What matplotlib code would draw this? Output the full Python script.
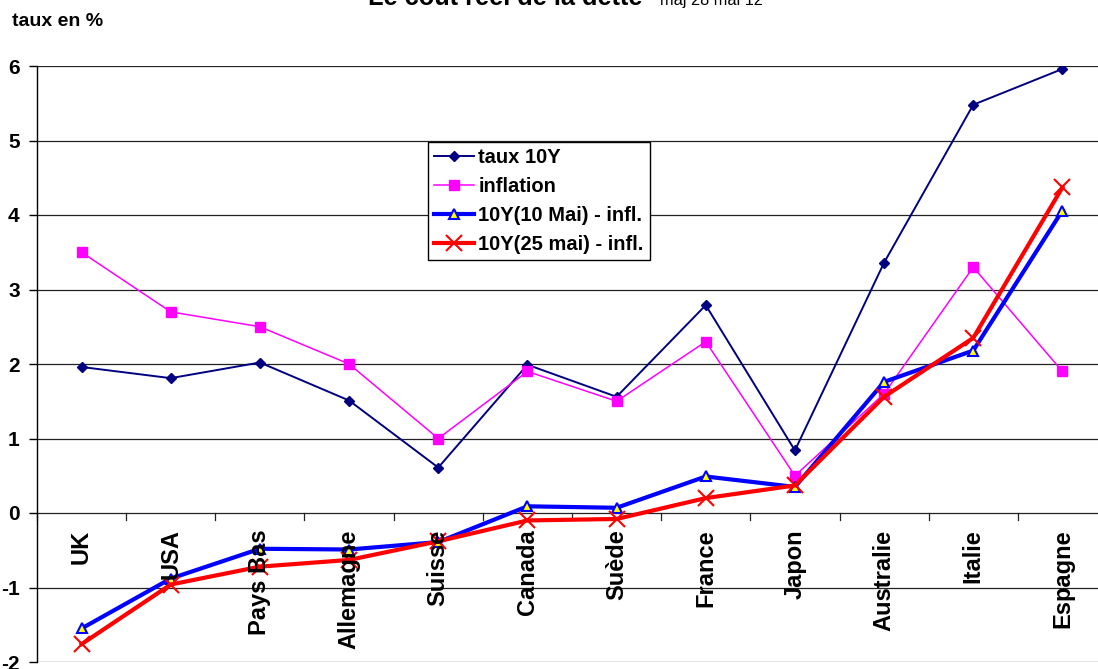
import numpy as np
import matplotlib.pyplot as plt

plt.rcParams['font.family'] = ['Liberation Sans', 'DejaVu Sans']

# Pays et séries (en %)
pays = ['UK', 'USA', 'Pays Bas', 'Allemagne', 'Suisse', 'Canada', 'Suède',
        'France', 'Japon', 'Australie', 'Italie', 'Espagne']
taux10y = [1.96, 1.81, 2.02, 1.51, 0.61, 1.99, 1.56, 2.79, 0.84, 3.36, 5.48, 5.96]
inflation = [3.5, 2.7, 2.5, 2.0, 1.0, 1.9, 1.5, 2.3, 0.5, 1.6, 3.3, 1.9]
reel_10mai = [-1.55, -0.88, -0.48, -0.49, -0.39, 0.09, 0.07, 0.49, 0.35, 1.76, 2.18, 4.06]
reel_25mai = [-1.76, -0.96, -0.72, -0.63, -0.38, -0.10, -0.08, 0.20, 0.37, 1.56, 2.35, 4.37]

W, H = 1098, 669
fig = plt.figure(figsize=(W / 100, H / 100), dpi=100)
# axe vertical a x=37px, graduations 6 -> y=66px, -2 -> y=662px
ax = fig.add_axes([37 / W, 1 - 662 / H, (1107 - 37) / W, (662 - 66) / H])

x = np.arange(len(pays))
ax.plot(x, taux10y, color='#000080', lw=1.4, marker='D', ms=5.5, label='taux 10Y', zorder=3)
ax.plot(x, inflation, color='#ff00ff', lw=1.1, marker='s', ms=7, label='inflation', zorder=3)
ax.plot(x, reel_10mai, color='#0000ff', lw=3, marker='^', ms=7, mfc='#ffff00', mec='#0000ff',
        mew=1.5, label='10Y(10 Mai) - infl.', zorder=4)
ax.plot(x, reel_25mai, color='#ff0000', lw=3, marker='x', ms=11, mew=1.5,
        label='10Y(25 mai) - infl.', zorder=5)

ax.set_xlim(-0.5, len(pays) - 0.5)
ax.set_ylim(-2, 6)
ax.set_yticks(range(-2, 7))
ax.set_yticklabels([str(v) for v in range(-2, 7)], fontsize=15, fontweight='bold')
for v in range(-2, 7):
    ax.axhline(v, color='#222222', lw=0.9, zorder=1)

for s in ['top', 'right', 'bottom']:
    ax.spines[s].set_visible(False)
ax.spines['left'].set_linewidth(1.0)
ax.tick_params(axis='y', length=5.5, width=1, pad=7)

# axe des catégories qui croise à 0
ax.set_xticks([])
for b in np.arange(-0.5, len(pays), 1.0):
    ax.plot([b, b], [0, -0.09], color='#222222', lw=0.9, clip_on=False, zorder=1)
for i, p in enumerate(pays):
    ax.text(i, -0.22, p, rotation=90, ha='center', va='top', fontsize=17,
            fontweight='bold', zorder=6)

leg = ax.legend(loc='upper left', bbox_to_anchor=((428 - 37) / (1107 - 37), (662 - 142) / (662 - 66)),
                prop={'weight': 'bold', 'size': 14.5}, fancybox=False, framealpha=1,
                edgecolor='black', handlelength=2.0, borderpad=0.3, labelspacing=0.5,
                handletextpad=0.2, borderaxespad=0)
leg.get_frame().set_linewidth(1.0)

fig.text(12 / W, 1 - 22 / H, 'taux en %', fontsize=14, fontweight='bold', va='center', ha='left')
fig.text(643 / W, 1 - 5 / H, 'Le coût réel de la dette', fontsize=18.3, fontweight='bold',
         ha='right', va='baseline')
fig.text(660 / W, 1 - 5 / H, 'maj 28 mai 12', fontsize=11.7, ha='left', va='baseline')

fig.savefig('out.png', dpi=100, facecolor='white')
